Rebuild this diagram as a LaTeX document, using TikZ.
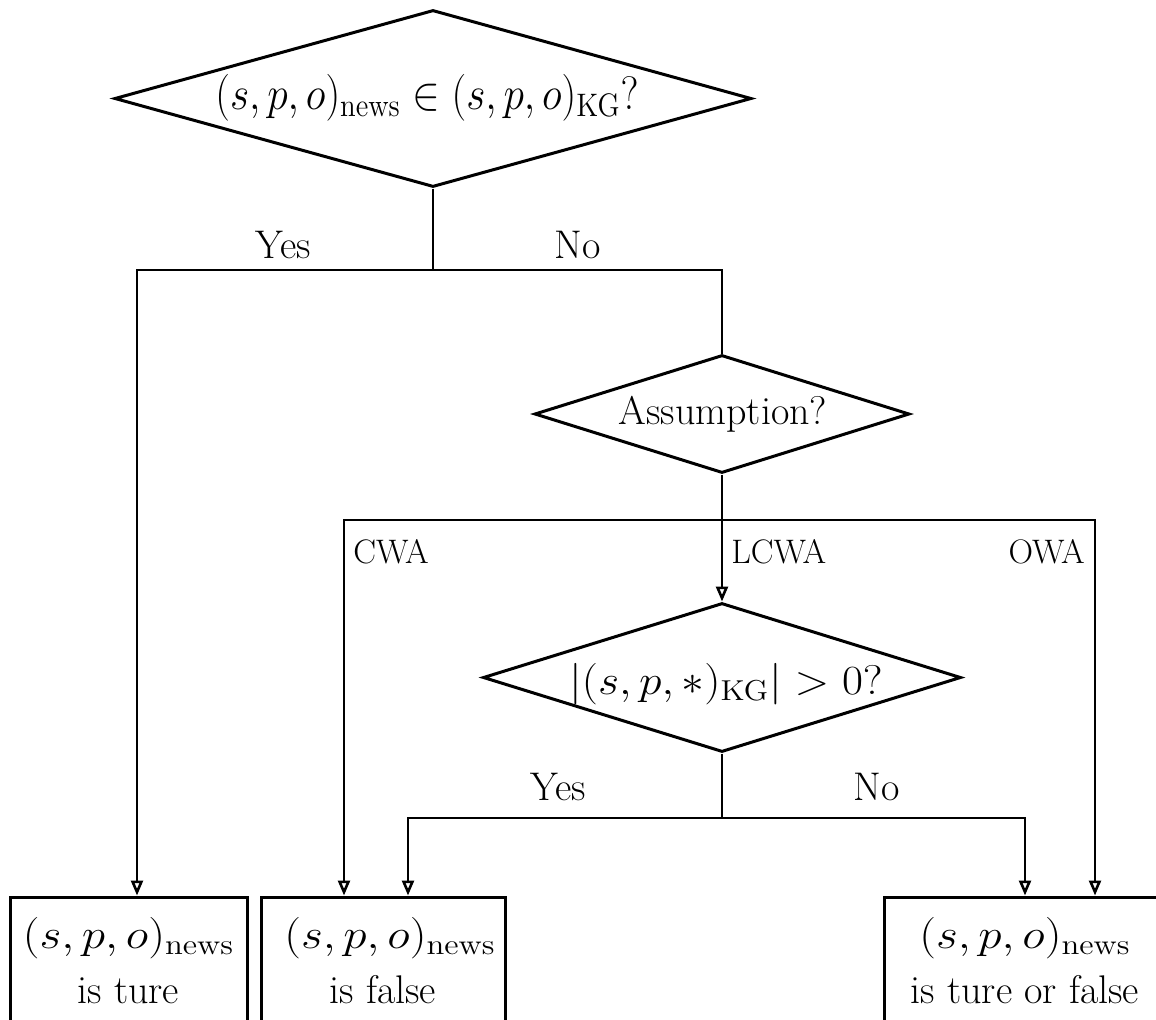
\documentclass[tikz,border=0pt]{standalone}
\usepackage{graphicx}
\usetikzlibrary{shapes.geometric,arrows.meta}
% wide math, as set in the outcome boxes and the lower test
\newcommand{\widemath}[2][1.14]{\scalebox{#1}[1]{$#2$}}
\begin{document}
\begin{tikzpicture}[
  x=0.5pt, y=-0.5pt,
  dia/.style={draw, shape=diamond, inner sep=0pt, line width=1.5pt},
  qtext/.style={inner sep=0pt, font=\fontsize{21}{25}\selectfont},
  outbox/.style={draw, rectangle, line width=1.5pt, align=center, inner sep=0pt,
    minimum height=63.5pt, font=\fontsize{20}{27.5}\selectfont},
  conn/.style={line width=1.35pt},
  arr/.style={conn, -{Triangle[open, length=7.5pt, width=6pt, line width=1.3pt]}},
  lbl/.style={inner sep=0pt, font=\fontsize{20}{24}\selectfont},
  wlbl/.style={inner sep=0pt, font=\fontsize{17}{20}\selectfont},
]
\useasboundingbox (0,0) rectangle (1156,1019);
\clip (0,0) rectangle (1156,1019);

% decisions
\node[dia, minimum width=318.5pt, minimum height=88.5pt] (q1) at (433,98.5) {};
\node[qtext, font=\fontsize{22.2}{26}\selectfont] (q1t) at (427,98)
  {\scalebox{1}[1.13]{$(s,p,o)_{\mathrm{news}} \in (s,p,o)_{\mathrm{KG}}?$}};

\node[dia, minimum width=187.5pt, minimum height=59pt] (q2) at (722,414) {};
\node[qtext, font=\fontsize{20}{24}\selectfont] (q2t) at (723,414) {Assumption?};

\node[dia, minimum width=239pt, minimum height=74.5pt] (q3) at (722,677.5) {};
\node[qtext] (q3t) at (726,684) {\widemath[1.1]{|(s,p,*)_{\mathrm{KG}}| > 0?}};

% outcomes
\node[outbox, minimum width=118.5pt] (r1) at (128.5,960.5)
  {{\fontsize{21}{27.5}\selectfont\widemath{(s,p,o)_{\mathrm{news}}}}\\is ture};
\node[outbox, minimum width=122pt] (r2) at (383,960.5)
  {\hspace{7pt}{\fontsize{21}{27.5}\selectfont\widemath{(s,p,o)_{\mathrm{news}}}}\\is false};
\node[outbox, minimum width=141pt] (r3) at (1025,960.5)
  {{\fontsize{21}{27.5}\selectfont\widemath{(s,p,o)_{\mathrm{news}}}}\\is ture or false};

% branch points
\coordinate (j1) at (433,270);
\coordinate (yL) at (137,270);
\coordinate (nR) at (722,270);
\coordinate (j2) at (722,520);
\coordinate (cL) at (344,520);
\coordinate (oR) at (1095,520);
\coordinate (j3) at (722,818);
\coordinate (fL) at (408,818);
\coordinate (tR) at (1025,818);

% first decision
\draw[conn] (q1.south) -- (j1);
\draw[arr] (j1) -- (yL) -- (yL |- r1.north);
\draw[conn] (j1) -- (nR) -- (q2.north);
\node[lbl, anchor=base] (y1) at (283,258) {Yes};
\node[lbl, anchor=base] (n1) at (578,258) {No};

% assumption
\draw[conn] (q2.south) -- (j2);
\draw[arr] (j2) -- (cL) -- (cL |- r2.north);
\draw[arr] (j2) -- (oR) -- (oR |- r3.north);
\draw[arr] (j2) -- (q3.north);
\node[wlbl, anchor=base west] (cwa) at (353,563) {CWA};
\node[wlbl, anchor=base west] (lcwa) at (731,563) {LCWA};
\node[wlbl, anchor=base east] (owa) at (1085,563) {OWA};

% LCWA check
\draw[conn] (q3.south) -- (j3);
\draw[arr] (j3) -- (fL) -- (fL |- r2.north);
\draw[arr] (j3) -- (tR) -- (tR |- r3.north);
\node[lbl, anchor=base] (y2) at (558,800) {Yes};
\node[lbl, anchor=base] (n2) at (877,800) {No};
\end{tikzpicture}
\end{document}
